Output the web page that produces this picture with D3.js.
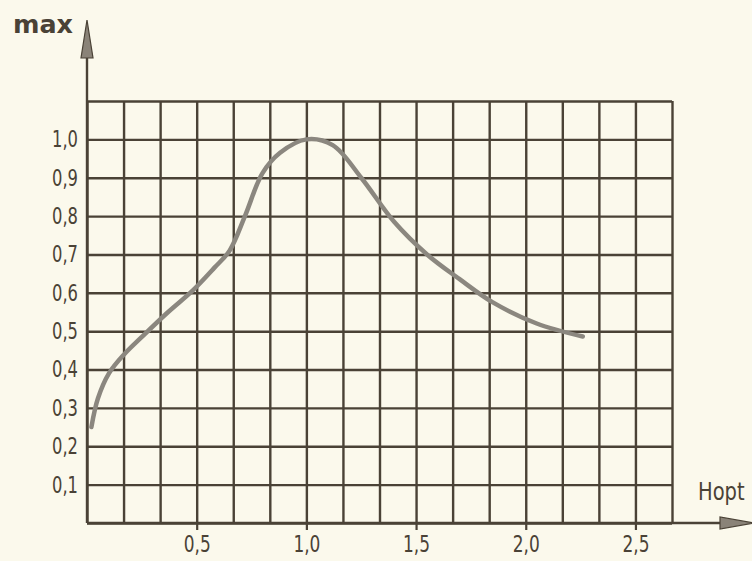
<!DOCTYPE html>
<html>
<head>
<meta charset="utf-8">
<script src="https://cdn.jsdelivr.net/npm/d3@7"></script>
<style>
  body { margin: 0; background: #fbf9ec; }
  svg { display: block; }
  .lbl { font-family: "DejaVu Sans", sans-serif; fill: #4a4236; }
</style>
</head>
<body>
<svg class="chart"></svg>
<script>
// values
var curveX = [0.02, 0.05, 0.10, 0.17, 0.25, 0.37, 0.48, 0.58, 0.65, 0.72, 0.80, 0.88, 1.0, 1.12, 1.25, 1.40, 1.55, 1.70, 1.85, 2.05, 2.26];
var curveY = [0.25, 0.325, 0.39, 0.44, 0.485, 0.55, 0.605, 0.665, 0.71, 0.80, 0.912, 0.965, 1.0, 0.985, 0.90, 0.785, 0.70, 0.635, 0.575, 0.52, 0.486];
var xTicks = [0.5, 1.0, 1.5, 2.0, 2.5];
var yTicks = [0.1, 0.2, 0.3, 0.4, 0.5, 0.6, 0.7, 0.8, 0.9, 1.0];
var gridX = [0, 1/6, 2/6, 3/6, 4/6, 5/6, 1, 7/6, 8/6, 9/6, 10/6, 11/6, 2, 13/6, 14/6, 15/6, 16/6];
var gridY = [0, 0.1, 0.2, 0.3, 0.4, 0.5, 0.6, 0.7, 0.8, 0.9, 1.0, 1.1];

var ink = "#4a4236";
var svg = d3.select(".chart").attr("width", 752).attr("height", 561);

var x = d3.scaleLinear().domain([0, 16/6]).range([87, 672]);
var y = d3.scaleLinear().domain([0, 1.1]).range([523, 101]);

function comma(d) { return d3.format(".1f")(d).replace(".", ","); }

// grid
svg.append("g")
  .attr("transform", "translate(0," + y(0) + ")")
  .call(d3.axisBottom(x).tickValues(gridX).tickSize(-(y(0) - y(1.1))).tickFormat(""))
  .call(function(g) { g.select(".domain").remove(); });
svg.append("g")
  .attr("transform", "translate(" + x(0) + ",0)")
  .call(d3.axisLeft(y).tickValues(gridY).tickSize(-(x(16/6) - x(0))).tickFormat(""))
  .call(function(g) { g.select(".domain").remove(); });
svg.selectAll(".tick line").attr("stroke", ink).attr("stroke-width", 2.4);

// axes with arrows
svg.append("line").attr("x1", x(0)).attr("x2", x(0)).attr("y1", y(0)).attr("y2", 40)
  .attr("stroke", ink).attr("stroke-width", 2.4);
svg.append("path").attr("d", "M" + x(0) + ",20 L" + (x(0) - 6) + ",58 L" + (x(0) + 6) + ",58 Z")
  .attr("fill", "#8a8378").attr("stroke", ink).attr("stroke-width", 1.2);
svg.append("line").attr("x1", x(0)).attr("x2", 740).attr("y1", y(0)).attr("y2", y(0))
  .attr("stroke", ink).attr("stroke-width", 2.4);
svg.append("path").attr("d", "M754," + y(0) + " L720," + (y(0) - 6) + " L720," + (y(0) + 6) + " Z")
  .attr("fill", "#8a8378").attr("stroke", ink).attr("stroke-width", 1.2);

// x labels
var xl = svg.append("g")
  .attr("transform", "translate(0," + y(0) + ")")
  .call(d3.axisBottom(x).tickValues(xTicks).tickSize(7).tickPadding(6).tickFormat(comma));
xl.select(".domain").remove();
xl.selectAll("line").attr("stroke", ink).attr("stroke-width", 2.2);
xl.selectAll("text").attr("class", "lbl").attr("font-size", 23).attr("fill", ink)
  .attr("textLength", 27).attr("lengthAdjust", "spacingAndGlyphs");

// y labels
var yl = svg.append("g")
  .attr("transform", "translate(" + x(0) + ",0)")
  .call(d3.axisLeft(y).tickValues(yTicks).tickSize(0).tickPadding(9).tickFormat(comma));
yl.select(".domain").remove();
yl.selectAll("text").attr("class", "lbl").attr("font-size", 23).attr("fill", ink)
  .attr("textLength", 26).attr("lengthAdjust", "spacingAndGlyphs");

// axis names
svg.append("text").attr("class", "lbl").attr("x", 13).attr("y", 33)
  .attr("font-size", 24).attr("font-weight", "bold")
  .attr("textLength", 60).attr("lengthAdjust", "spacingAndGlyphs").text("max");
svg.append("text").attr("class", "lbl")
  .attr("transform", "translate(698,500) scale(0.78,1)")
  .attr("font-size", 25).text("Hopt");

// curve
var pts = curveX.map(function(v, i) { return [v, curveY[i]]; });
var line = d3.line().x(function(d) { return x(d[0]); }).y(function(d) { return y(d[1]); })
  .curve(d3.curveCatmullRom.alpha(0.5));
svg.append("path").datum(pts).attr("d", line)
  .attr("fill", "none").attr("stroke", "#8b877f").attr("stroke-width", 4.5).attr("stroke-linecap", "round");
</script>
</body>
</html>
